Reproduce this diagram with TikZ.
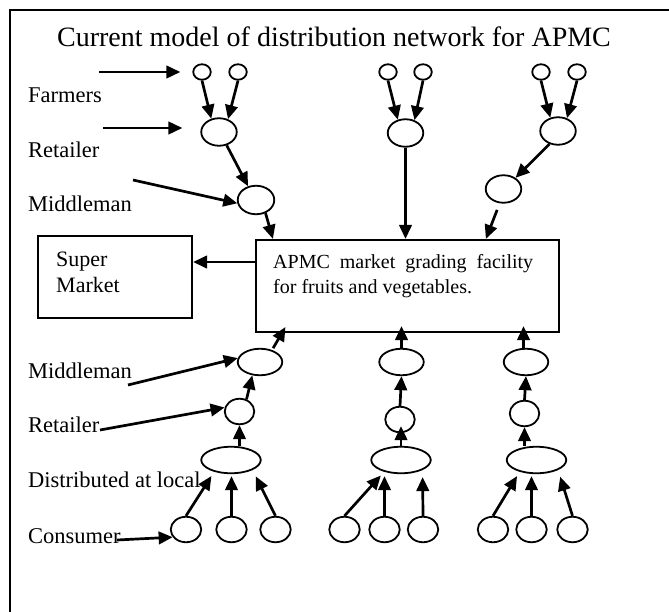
\documentclass[tikz,border=0pt]{standalone}
\usepackage{fontspec}
\setmainfont{Liberation Serif}
\usetikzlibrary{shapes.geometric,arrows.meta}

\def\lab#1#2#3{
	\node[lbl] (#1) at (28,#2) {#3};
}
\def\ov#1#2#3#4{
	\node[#1] (#2) at (#3,#4) {};
}

\begin{document}
\begin{tikzpicture}[x=1pt,y=-1pt,>={Triangle[length=14pt,width=12.5pt]},
	arr/.style={->,line width=2.7pt},
	oval/.style={ellipse,draw,line width=1.8pt,inner sep=0pt},
	farm/.style={oval,minimum width=17.5pt,minimum height=15.5pt},
	retail/.style={oval,minimum width=35.5pt,minimum height=27.5pt},
	mid/.style={oval,minimum width=36.5pt,minimum height=28.5pt},
	midlow/.style={oval,minimum width=44.5pt,minimum height=26.5pt},
	retlow/.style={oval,minimum width=29.5pt,minimum height=25.5pt},
	dist/.style={oval,minimum width=59.5pt,minimum height=26.5pt},
	cons/.style={oval,minimum width=30.5pt,minimum height=25.5pt},
	boxline/.style={draw,line width=2.2pt,inner sep=0pt},
	lbl/.style={anchor=base west,inner sep=0pt,font=\fontsize{22.5}{27}\selectfont}]

\useasboundingbox (0,0) rectangle (669,612);
\draw[line width=2.2pt] (10,612) -- (10,10) -- (669,10);

\node[anchor=base,inner sep=0pt,font=\fontsize{28}{34}\selectfont] (title) at (334,46.7)
	{Current model of distribution network for APMC};

% labels on the left
\lab{lfarm}{103}{Farmers}
\lab{lret}{158}{Retailer}
\lab{lmid}{212}{Middleman}
\lab{lmidb}{378}{Middleman}
\lab{lretb}{432}{Retailer}
\lab{ldist}{487}{Distributed at local}
\lab{lcons}{543}{Consumer}

% boxes
\node[boxline,minimum width=154pt,minimum height=82pt] (super) at (115,277) {};
\node[anchor=north west,inner sep=0pt,align=left,font=\fontsize{22}{26}\selectfont]
	(supertext) at (56,251.8) {Super\\Market};
\node[boxline,minimum width=303pt,minimum height=92pt] (apmc) at (407.5,286) {};
\node[anchor=north west,inner sep=0pt,text width=260pt,align=justify,font=\fontsize{20}{25}\selectfont]
	(apmctext) at (273,254.3) {APMC market grading facility for fruits and vegetables.};

% upper tiers
\ov{farm}{fa1}{202}{72}   \ov{farm}{fb1}{238}{72}
\ov{farm}{fa2}{388}{72}   \ov{farm}{fb2}{423}{72}
\ov{farm}{fa3}{541}{72}   \ov{farm}{fb3}{577}{72}
\ov{retail}{r1}{219}{132} \ov{retail}{r2}{405.5}{133} \ov{retail}{r3}{558}{131}
\ov{mid}{m1}{256}{200}                                \ov{retail}{m3}{503.5}{189}

% lower tiers
\ov{midlow}{mb1}{260}{362}     \ov{midlow}{mb2}{401.5}{362}   \ov{midlow}{mb3}{526}{362}
\ov{retlow}{rb1}{239.5}{411.5} \ov{retlow}{rb2}{400}{419.5}   \ov{retlow}{rb3}{524.5}{413.5}
\ov{dist}{d1}{231}{460}        \ov{dist}{d2}{401}{460}        \ov{dist}{d3}{536.5}{460}
\ov{cons}{ca1}{186}{529.5} \ov{cons}{cb1}{231.5}{529.5} \ov{cons}{cc1}{275.5}{529.5}
\ov{cons}{ca2}{344.5}{529.5} \ov{cons}{cb2}{384.5}{529.5} \ov{cons}{cc2}{423}{529.5}
\ov{cons}{ca3}{493}{529.5} \ov{cons}{cb3}{531.5}{529.5} \ov{cons}{cc3}{572.5}{529.5}

% arrows from the labels
\coordinate (s1) at (99,72);
\coordinate (s2) at (103,128);
\coordinate (s3) at (133,180);
\coordinate (s4) at (128,385);
\coordinate (s5) at (100,430);
\coordinate (s6) at (117,540);
\draw[arr,shorten >=12pt] (s1) -- (fa1.west);
\draw[arr,shorten >=18pt] (s2) -- (s2 -| r1.west);
\draw[arr] (s3) -- (m1.190);
\draw[arr] (s4) -- (mb1.170);
\draw[arr] (s5) -- (rb1.165);
\draw[arr] (s6) -- (ca1.210);

% flow into the market
\foreach \g in {1,2,3}{
	\draw[arr] (fa\g.south) -- (r\g.120);
	\draw[arr] (fb\g.south) -- (r\g.55);
}
\draw[arr] (r1.300) -- (m1.120);
\draw[arr] (r2.south) -- (r2.south |- apmc.north);
\draw[arr] (r3.237) -- (m3.43);
\draw[arr] (m1.306) -- ([xshift=18pt]apmc.north west);
\draw[arr,shorten <=7pt] (m3.255) -- ([xshift=231pt]apmc.north west);

\coordinate (sm) at ([yshift=24pt]apmc.west);
\draw[arr] (sm) -- (sm -| super.east);

% flow from the consumers
\foreach \g in {1,2,3}{
	\draw[arr,shorten >=2pt] (cb\g.north) -- (cb\g.north |- d\g.south);
	\draw[arr,shorten >=5pt] (ca\g.north) -- (d\g.215);
	\draw[arr,shorten >=7pt] (cc\g.north) -- (d\g.335);
}
\draw[arr] (rb1.south |- d1.north) -- (rb1.south);
\draw[arr,shorten >=-7pt] (d2.north) -- (d2.north |- rb2.south);
\draw[arr] (rb3.south |- d3.north) -- (rb3.south);
\draw[arr] (rb1.60) -- (mb1.240);
\draw[arr] (rb2.north) -- (mb2.south);
\draw[arr] (rb3.north) -- (mb3.south);
\draw[arr,shorten <=2pt,shorten >=-7pt] (mb1.45) -- ([xshift=27pt]apmc.south west);
\draw[arr,shorten >=-7pt] (mb2.north) -- (mb2.north |- apmc.south);
\draw[arr,shorten >=-7pt] (mb3.100) -- (mb3.100 |- apmc.south);
\end{tikzpicture}
\end{document}
